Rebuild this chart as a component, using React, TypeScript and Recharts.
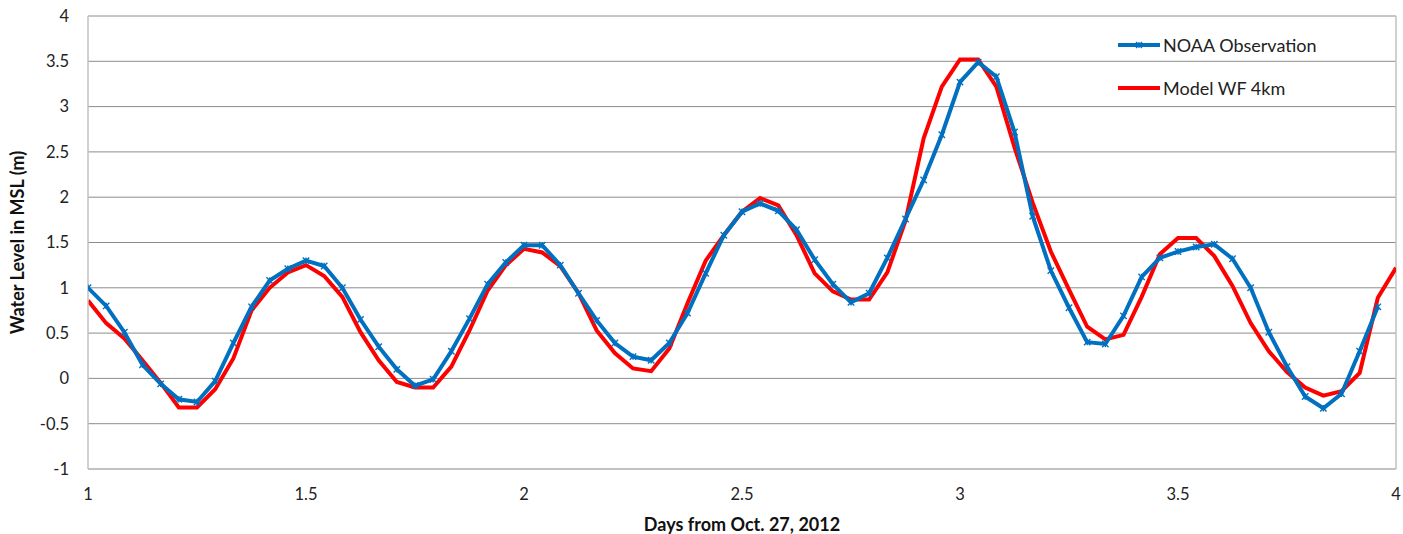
import React from 'react';
import { LineChart, Line, XAxis, YAxis, CartesianGrid, Legend, ReferenceLine } from 'recharts';

// hours after Oct 28 00:00 (day 1)
const HOURS = [
  0, 1, 2, 3, 4, 5, 6, 7, 8, 9, 10, 11, 12, 13, 14, 15, 16, 17, 18, 19, 20, 21, 22, 23,
  24, 25, 26, 27, 28, 29, 30, 31, 32, 33, 34, 35, 36, 37, 38, 39, 40, 41, 42, 43, 44, 45, 46, 47,
  48, 49, 50, 51, 52, 53, 54, 55, 56, 57, 58, 59, 60, 61, 62, 63, 64, 65, 66, 67, 68, 69, 70, 71, 72,
];

const NOAA_OBS = [
  1.0, 0.8, 0.51, 0.15, -0.06, -0.23, -0.26, -0.03, 0.39, 0.79, 1.08, 1.21,
  1.3, 1.24, 1.0, 0.65, 0.35, 0.1, -0.08, -0.01, 0.3, 0.66, 1.04, 1.28,
  1.47, 1.47, 1.25, 0.94, 0.64, 0.39, 0.24, 0.2, 0.39, 0.72, 1.16, 1.58,
  1.84, 1.93, 1.85, 1.64, 1.31, 1.04, 0.84, 0.94, 1.33, 1.76, 2.19, 2.69,
  3.27, 3.49, 3.33, 2.72, 1.79, 1.19, 0.78, 0.4, 0.38, 0.69, 1.12, 1.33,
  1.4, 1.45, 1.48, 1.32, 1.0, 0.51, 0.13, -0.2, -0.33, -0.17, 0.3, 0.79,
];

const MODEL_WF = [
  0.86, 0.61, 0.44, 0.2, -0.05, -0.32, -0.32, -0.12, 0.22, 0.75, 1.0, 1.17,
  1.25, 1.13, 0.9, 0.51, 0.2, -0.04, -0.1, -0.1, 0.13, 0.53, 0.97, 1.25,
  1.43, 1.39, 1.24, 0.94, 0.53, 0.28, 0.11, 0.08, 0.33, 0.83, 1.3, 1.58,
  1.84, 1.99, 1.91, 1.58, 1.16, 0.96, 0.87, 0.87, 1.17, 1.74, 2.65, 3.22,
  3.52, 3.52, 3.22, 2.55, 1.94, 1.4, 0.98, 0.57, 0.43, 0.48, 0.9, 1.37,
  1.55, 1.55, 1.35, 1.02, 0.61, 0.3, 0.07, -0.1, -0.19, -0.14, 0.06, 0.89,
  1.22,
];

const X_TICKS = [1, 1.5, 2, 2.5, 3, 3.5, 4];
const Y_TICKS = [-1, -0.5, 0, 0.5, 1, 1.5, 2, 2.5, 3, 3.5, 4];

const SERIES = [
  { key: 'noaa', name: 'NOAA Observation', color: '#0070C0' },
  { key: 'model', name: 'Model WF 4km', color: '#FF0000' },
];

const data = HOURS.map((h, i) => ({
  t: 1 + h / 24,
  noaa: i < NOAA_OBS.length ? NOAA_OBS[i] : null,
  model: MODEL_WF[i],
}));

const FONT = 'Lato, "Liberation Sans", sans-serif';

const StarDot = (props: any) => {
  const { cx, cy, stroke } = props;
  if (cx == null || cy == null || props.value == null) return null;
  const s = 3.2;
  return (
    <g stroke={stroke} strokeWidth={1.4}>
      <line x1={cx} y1={cy - s} x2={cx} y2={cy + s} />
      <line x1={cx - s} y1={cy - s} x2={cx + s} y2={cy + s} />
      <line x1={cx - s} y1={cy + s} x2={cx + s} y2={cy - s} />
    </g>
  );
};

const LegendContent = () => (
  <div style={{ fontFamily: FONT, fontSize: 18, color: '#222' }}>
    {SERIES.map((s) => (
      <div key={s.key} style={{ display: 'flex', alignItems: 'center', height: 43 }}>
        <svg width={42} height={10} style={{ marginRight: 3 }}>
          <line x1={0} y1={5} x2={42} y2={5} stroke={s.color} strokeWidth={4} />
          {s.key === 'noaa' && (
            <g stroke={s.color} strokeWidth={1.2}>
              <line x1={21} y1={2} x2={21} y2={8} />
              <line x1={18} y1={2} x2={24} y2={8} />
              <line x1={18} y1={8} x2={24} y2={2} />
            </g>
          )}
        </svg>
        <span>{s.name}</span>
      </div>
    ))}
  </div>
);

export default function App() {
  return (
    <div style={{ position: 'absolute', left: 0, top: 0 }}>
      <LineChart
        width={1403}
        height={534}
        data={data}
        margin={{ top: 16, right: 7, left: 0, bottom: 0 }}
        style={{ fontFamily: FONT }}
      >
        <CartesianGrid horizontal vertical={false} stroke="#8c8c8c" strokeWidth={1} />
        <XAxis
          dataKey="t"
          type="number"
          domain={[1, 4]}
          ticks={X_TICKS}
          allowDataOverflow
          height={65}
          tickLine={false}
          tickSize={0}
          tickMargin={19}
          axisLine={{ stroke: '#c0c0c0', strokeWidth: 1.5 }}
          tick={{ fontSize: 16.5, fill: '#222', fontFamily: FONT }}
          label={{
            value: 'Days from Oct. 27, 2012',
            position: 'insideBottom',
            offset: 3,
            style: { fontSize: 18, fontWeight: 700, fill: '#111', fontFamily: FONT },
          }}
        />
        <YAxis
          type="number"
          domain={[-1, 4]}
          ticks={Y_TICKS}
          width={88}
          tickLine={false}
          tickSize={0}
          tickMargin={19}
          axisLine={{ stroke: '#c0c0c0', strokeWidth: 1.5 }}
          tick={{ fontSize: 16.5, fill: '#222', fontFamily: FONT }}
          label={{
            value: 'Water Level in MSL (m)',
            angle: -90,
            position: 'insideLeft',
            offset: 18,
            style: { textAnchor: 'middle', fontSize: 18, fontWeight: 700, fill: '#111', fontFamily: FONT },
          }}
        />
        <ReferenceLine x={4} stroke="#c0c0c0" strokeWidth={1.5} />
        <Legend
          verticalAlign="middle"
          align="center"
          layout="horizontal"
          content={<LegendContent />}
          wrapperStyle={{ top: 23, left: 1118, width: 270 }}
        />
        <Line
          type="linear"
          dataKey="model"
          name="Model WF 4km"
          stroke="#FF0000"
          strokeWidth={4}
          dot={false}
          isAnimationActive={false}
        />
        <Line
          type="linear"
          dataKey="noaa"
          name="NOAA Observation"
          stroke="#0070C0"
          strokeWidth={4}
          dot={<StarDot />}
          activeDot={false}
          isAnimationActive={false}
        />
      </LineChart>
    </div>
  );
}
